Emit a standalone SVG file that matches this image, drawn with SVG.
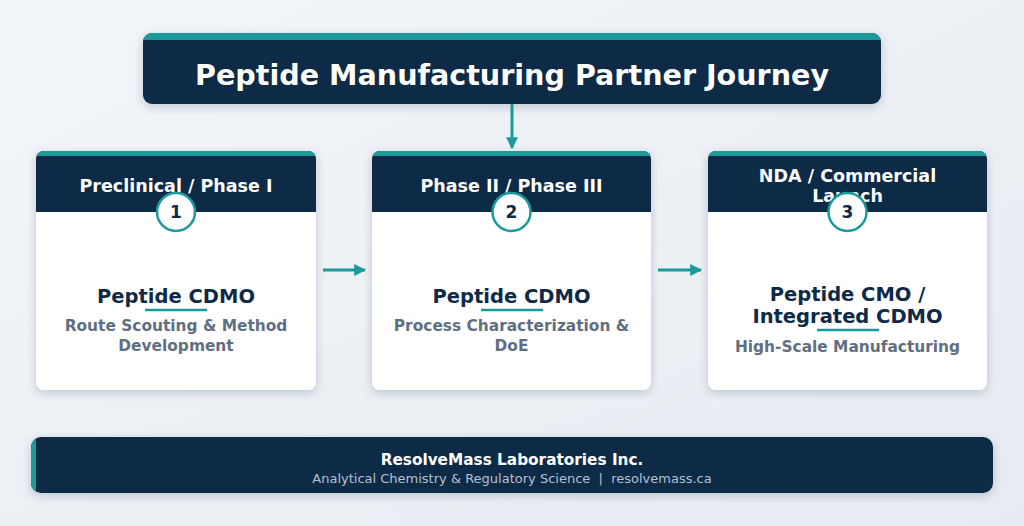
<svg xmlns="http://www.w3.org/2000/svg" width="1024" height="526" viewBox="0 0 1024 526">
<defs>
<linearGradient id="bg" x1="0" y1="0" x2="1" y2="1">
<stop offset="0" stop-color="#f2f5f8"/>
<stop offset="1" stop-color="#e6ecf2"/>
</linearGradient>
<filter id="sh" x="-10%" y="-10%" width="120%" height="130%">
<feDropShadow dx="0" dy="3" stdDeviation="5" flood-color="#0f2a47" flood-opacity="0.2"/>
</filter>
<marker id="ah" viewBox="0 0 10 10" refX="9" refY="5" markerWidth="4" markerHeight="4" orient="auto" markerUnits="strokeWidth">
<path d="M0,0 L10,5 L0,10 z" fill="#1a9a9a"/>
</marker>
<clipPath id="c1"><rect x="36" y="151" width="280" height="239" rx="8"/></clipPath>
<clipPath id="c2"><rect x="372" y="151" width="279" height="239" rx="8"/></clipPath>
<clipPath id="c3"><rect x="708" y="151" width="279" height="239" rx="8"/></clipPath>
<clipPath id="ct"><rect x="143" y="33" width="738" height="71" rx="9"/></clipPath>
<clipPath id="cf"><rect x="31" y="437" width="962" height="56" rx="10"/></clipPath>
</defs>
<style>
.navy{fill:#0f2a47}
.teal{fill:#1a9a9a}
.hdr{font-family:"DejaVu Sans",sans-serif;font-weight:bold;font-size:17.5px;fill:#ffffff;text-anchor:middle}
.num{font-family:"DejaVu Sans",sans-serif;font-weight:bold;font-size:17px;fill:#0f2a47;text-anchor:middle}
.ttl{font-family:"DejaVu Sans",sans-serif;font-weight:bold;font-size:19.5px;fill:#0f2a47;text-anchor:middle}
.sub{font-family:"DejaVu Sans",sans-serif;font-weight:bold;font-size:15.4px;fill:#5f6f82;text-anchor:middle}
.badge{fill:#ffffff;stroke:#1a9a9a;stroke-width:2.5}
.ul{stroke:#1a9a9a;stroke-width:2.5}
.conn{stroke:#1a9a9a;stroke-width:3;fill:none}
</style>
<rect width="1024" height="526" fill="url(#bg)"/>

<g id="title">
<g filter="url(#sh)">
<g clip-path="url(#ct)">
<rect x="143" y="33" width="738" height="71" class="navy"/>
<rect x="143" y="33" width="738" height="7" class="teal"/>
</g>
</g>
<text x="512" y="85" font-family="DejaVu Sans, sans-serif" font-weight="bold" font-size="28.6" fill="#ffffff" text-anchor="middle">Peptide Manufacturing Partner Journey</text>
</g>

<g id="connectors">
<line x1="512" y1="104" x2="512" y2="148" class="conn" marker-end="url(#ah)"/>
<line x1="323" y1="270" x2="365" y2="270" class="conn" marker-end="url(#ah)"/>
<line x1="658" y1="270" x2="701" y2="270" class="conn" marker-end="url(#ah)"/>
</g>

<g id="card1">
<g filter="url(#sh)">
<g clip-path="url(#c1)">
<rect x="36" y="151" width="280" height="239" fill="#ffffff"/>
<rect x="36" y="151" width="280" height="61" class="navy"/>
<rect x="36" y="151" width="280" height="5" class="teal"/>
</g>
</g>
<text x="176" y="192" class="hdr">Preclinical / Phase I</text>
<circle cx="176" cy="212" r="19" class="badge"/>
<text x="176" y="218" class="num">1</text>
<text x="176" y="303" class="ttl">Peptide CDMO</text>
<line x1="145" y1="310" x2="207" y2="310" class="ul"/>
<text x="176" y="331" class="sub">Route Scouting &amp; Method</text>
<text x="176" y="351" class="sub">Development</text>
</g>

<g id="card2">
<g filter="url(#sh)">
<g clip-path="url(#c2)">
<rect x="372" y="151" width="279" height="239" fill="#ffffff"/>
<rect x="372" y="151" width="279" height="61" class="navy"/>
<rect x="372" y="151" width="279" height="5" class="teal"/>
</g>
</g>
<text x="511.5" y="192" class="hdr">Phase II / Phase III</text>
<circle cx="511.5" cy="212" r="19" class="badge"/>
<text x="511.5" y="218" class="num">2</text>
<text x="511.5" y="303" class="ttl">Peptide CDMO</text>
<line x1="481" y1="310" x2="543" y2="310" class="ul"/>
<text x="511.5" y="331" class="sub">Process Characterization &amp;</text>
<text x="511.5" y="351" class="sub">DoE</text>
</g>

<g id="card3">
<g filter="url(#sh)">
<g clip-path="url(#c3)">
<rect x="708" y="151" width="279" height="239" fill="#ffffff"/>
<rect x="708" y="151" width="279" height="61" class="navy"/>
<rect x="708" y="151" width="279" height="5" class="teal"/>
</g>
</g>
<text x="847.5" y="182" class="hdr">NDA / Commercial</text>
<text x="847.5" y="202" class="hdr">Launch</text>
<circle cx="847.5" cy="212" r="19" class="badge"/>
<text x="847.5" y="218" class="num">3</text>
<text x="847.5" y="301" class="ttl">Peptide CMO /</text>
<text x="847.5" y="323" class="ttl">Integrated CDMO</text>
<line x1="817" y1="330" x2="879" y2="330" class="ul"/>
<text x="847.5" y="352" class="sub">High-Scale Manufacturing</text>
</g>

<g id="footer">
<g filter="url(#sh)">
<g clip-path="url(#cf)">
<rect x="31" y="437" width="962" height="56" class="navy"/>
<rect x="31" y="437" width="5" height="56" class="teal"/>
</g>
</g>
<text x="512" y="465" font-family="DejaVu Sans, sans-serif" font-weight="bold" font-size="15.3" fill="#ffffff" text-anchor="middle">ResolveMass Laboratories Inc.</text>
<text x="512" y="483" font-family="DejaVu Sans, sans-serif" font-size="13" fill="#b3c1d1" text-anchor="middle" style="white-space:pre">Analytical Chemistry &amp; Regulatory Science  |  resolvemass.ca</text>
</g>
</svg>
